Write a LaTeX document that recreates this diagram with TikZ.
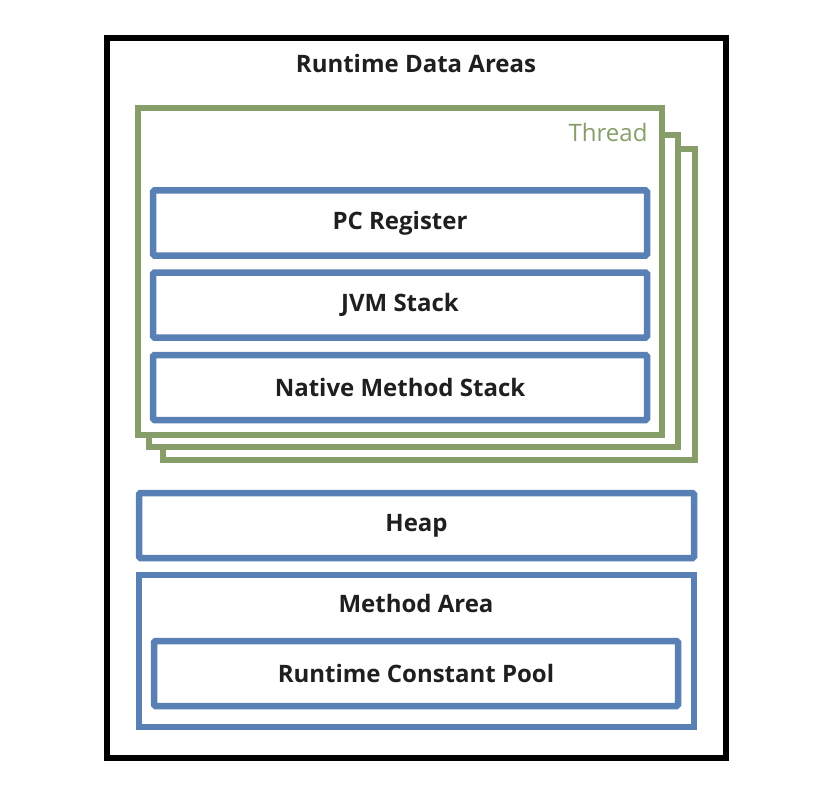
\documentclass[tikz,border=0pt]{standalone}
\usepackage{fontspec}
\setmainfont{Open Sans}
\begin{document}
\begin{tikzpicture}[x=1pt,y=-1pt,
  lbl/.style={font=\bfseries\fontsize{24}{28}\selectfont, text=black!88},
  outerbox/.style={draw=black, line width=6pt, fill=white},
  threadbox/.style={draw=threadgreen, line width=6pt, fill=white},
  areabox/.style={draw=areablue, line width=6.5pt, fill=white, rounded corners=1.5pt,
    rectangle, inner sep=0pt, lbl},
]
\definecolor{threadgreen}{RGB}{136,158,106}
\definecolor{areablue}{RGB}{88,128,180}
\useasboundingbox (0,0) rectangle (834,810);

% outer frame
\draw[outerbox] (106.5,38.5) rectangle (726,758);
\node[lbl] (title) at (416,64) {Runtime Data Areas};

% stacked thread frames, back to front
\draw[threadbox] (163,149) rectangle (695,460);
\draw[threadbox] (149,135) rectangle (678,447);
\draw[threadbox] (138,108) rectangle (661.5,435);
\node[font=\fontsize{24}{27}\selectfont, text=threadgreen, anchor=east] (thread) at (651,133) {Thread};

% per-thread areas
\node[areabox, minimum width=494pt, minimum height=65pt] (pc) at (400,223) {PC Register};
\node[areabox, minimum width=494pt, minimum height=65pt] (jvm) at (400,305) {JVM Stack};
\node[areabox, minimum width=494pt, minimum height=65pt] (native) at (400,387.5) {Native Method Stack};

% shared areas
\node[areabox, minimum width=555pt, minimum height=65pt] (heap) at (416.5,525.5) {Heap};
\node[areabox, minimum width=555pt, minimum height=152pt, rounded corners=0pt] (method) at (416.5,651) {};
\node[lbl] (methodlbl) at (416,603) {Method Area};
\node[areabox, minimum width=524pt, minimum height=65pt] (pool) at (416,673.5) {Runtime Constant Pool};
\end{tikzpicture}
\end{document}
